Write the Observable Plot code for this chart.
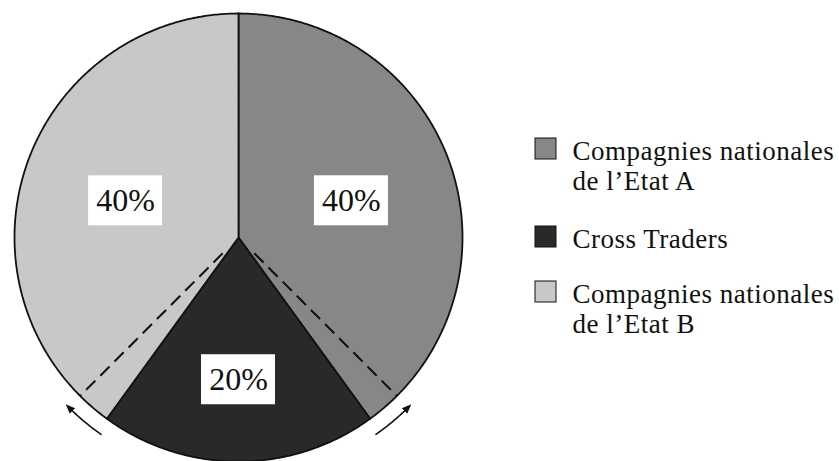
<!DOCTYPE html>
<html>
<head>
<meta charset="utf-8">
<script src="https://cdn.jsdelivr.net/npm/d3@7"></script>
<script src="https://cdn.jsdelivr.net/npm/@observablehq/plot@0.6"></script>
<style>
  html, body { margin: 0; padding: 0; background: #fff; }
  #chart { width: 839px; height: 461px; }
</style>
</head>
<body>
<div id="chart"></div>
<script>
// ---- data ----
const categories = ["Compagnies nationales de l’Etat A", "Cross Traders", "Compagnies nationales de l’Etat B"];
const legendLines = [["Compagnies nationales", "de l’Etat A"], ["Cross Traders"], ["Compagnies nationales", "de l’Etat B"]];
const shares = [40, 20, 40];
const shareLabels = ["40%", "20%", "40%"];
const dashedBorders = [37.5, 62.5];      // shifted borders (cumulative %)
const shiftArrowsFrom = [59.7, 40.3];    // arrow start (cumulative %)
const shiftArrowsTo = [62.5, 37.5];      // arrow end (cumulative %)

// ---- style / layout ----
const colors = ["#878787", "#292929", "#c8c8c8"];
const CX = 238, CY = 237, R = 224;
const serif = "Liberation Serif, Times New Roman, serif";
const ink = "#111";

const total = d3.sum(shares);
const ang = p => p / 100 * 2 * Math.PI;
const pt = (a, r) => ({x: r * Math.sin(a), y: r * Math.cos(a)});
const px = v => (v - CX) / R;   // pixel -> data (x)
const py = v => (CY - v) / R;   // pixel -> data (y)

let acc = 0;
const slices = shares.map((v, i) => {
  const a0 = ang(acc / total * 100); acc += v; const a1 = ang(acc / total * 100);
  return {i, a0, a1, mid: (a0 + a1) / 2, label: shareLabels[i], name: categories[i]};
});
const slicePts = slices.flatMap(s => {
  const n = Math.ceil((s.a1 - s.a0) / (Math.PI / 360));
  const pts = [{...pt(0, 0), k: s.i}];
  for (let j = 0; j <= n; j++) pts.push({...pt(s.a0 + (s.a1 - s.a0) * j / n, 1), k: s.i});
  pts.push({...pt(0, 0), k: s.i});
  return pts;
});
const labelR = s => (s.a1 - s.a0) < Math.PI / 2 ? 0.635 : 0.53;
const labelPos = slices.map(s => ({...pt(s.mid, labelR(s)), label: s.label}));
const bw = 37 / R, bh = 25 / R;

const arrowR = 1.072;
const arrowPts = shiftArrowsFrom.flatMap((f, k) => {
  const a0 = ang(f), a1 = ang(shiftArrowsTo[k]);
  const n = 20;
  return d3.range(n + 1).map(j => ({...pt(a0 + (a1 - a0) * j / n, arrowR), k}));
});

// legend layout (pixels)
const legendFirstBaseline = [159, 247, 302];
const legendLineStep = 30;
const legendTextX = 572, swX0 = 535, swSize = 21;
const legendRows = legendLines.flatMap((lines, i) =>
  lines.map((t, j) => ({t, x: px(legendTextX), y: py(legendFirstBaseline[i] + j * legendLineStep)})));
const swatches = legendLines.map((_, i) => ({
  i, x1: px(swX0), x2: px(swX0 + swSize),
  y1: py(legendFirstBaseline[i] - swSize), y2: py(legendFirstBaseline[i])
}));

const plot = Plot.plot({
  width: 839,
  height: 461,
  margin: 0,
  x: {domain: [-1, 1], range: [CX - R, CX + R], axis: null},
  y: {domain: [-1, 1], range: [CY + R, CY - R], axis: null},
  style: {background: "#fff"},
  marks: [
    ...slices.map(s => Plot.line(slicePts.filter(d => d.k === s.i), {
      x: "x", y: "y", fill: colors[s.i], stroke: ink, strokeWidth: 1.8, strokeLinejoin: "round"
    })),
    Plot.link(dashedBorders, {
      x1: p => pt(ang(p), 0.1).x, y1: p => pt(ang(p), 0.1).y,
      x2: p => pt(ang(p), 1).x, y2: p => pt(ang(p), 1).y,
      stroke: ink, strokeWidth: 2.1, strokeDasharray: "13,7"
    }),
    Plot.line(arrowPts, {x: "x", y: "y", z: "k", stroke: ink, strokeWidth: 1.6, markerEnd: "arrow"}),
    Plot.rect(labelPos, {
      x1: d => d.x - bw, x2: d => d.x + bw, y1: d => d.y - bh, y2: d => d.y + bh,
      fill: "#fff"
    }),
    Plot.text(labelPos, {
      x: "x", y: "y", text: "label", fontFamily: serif, fontSize: 32, fill: ink
    }),
    Plot.rect(swatches, {
      x1: "x1", x2: "x2", y1: "y1", y2: "y2",
      fill: d => colors[d.i], stroke: ink, strokeWidth: 1
    }),
    Plot.text(legendRows, {
      x: "x", y: "y", text: "t", textAnchor: "start", lineAnchor: "bottom",
      fontFamily: serif, fontSize: 27, fill: ink, className: "legend-text"
    })
  ]
});

// filled arrowheads
d3.select(plot).selectAll("marker")
  .attr("fill", ink).attr("stroke", "none")
  .select("path").attr("d", "M-5,-3.6L4,0L-5,3.6Z");
// slightly wider legend type, like the original face
d3.select(plot).selectAll(".legend-text text").attr("letter-spacing", "0.5px");

document.getElementById("chart").append(plot);
</script>
</body>
</html>
